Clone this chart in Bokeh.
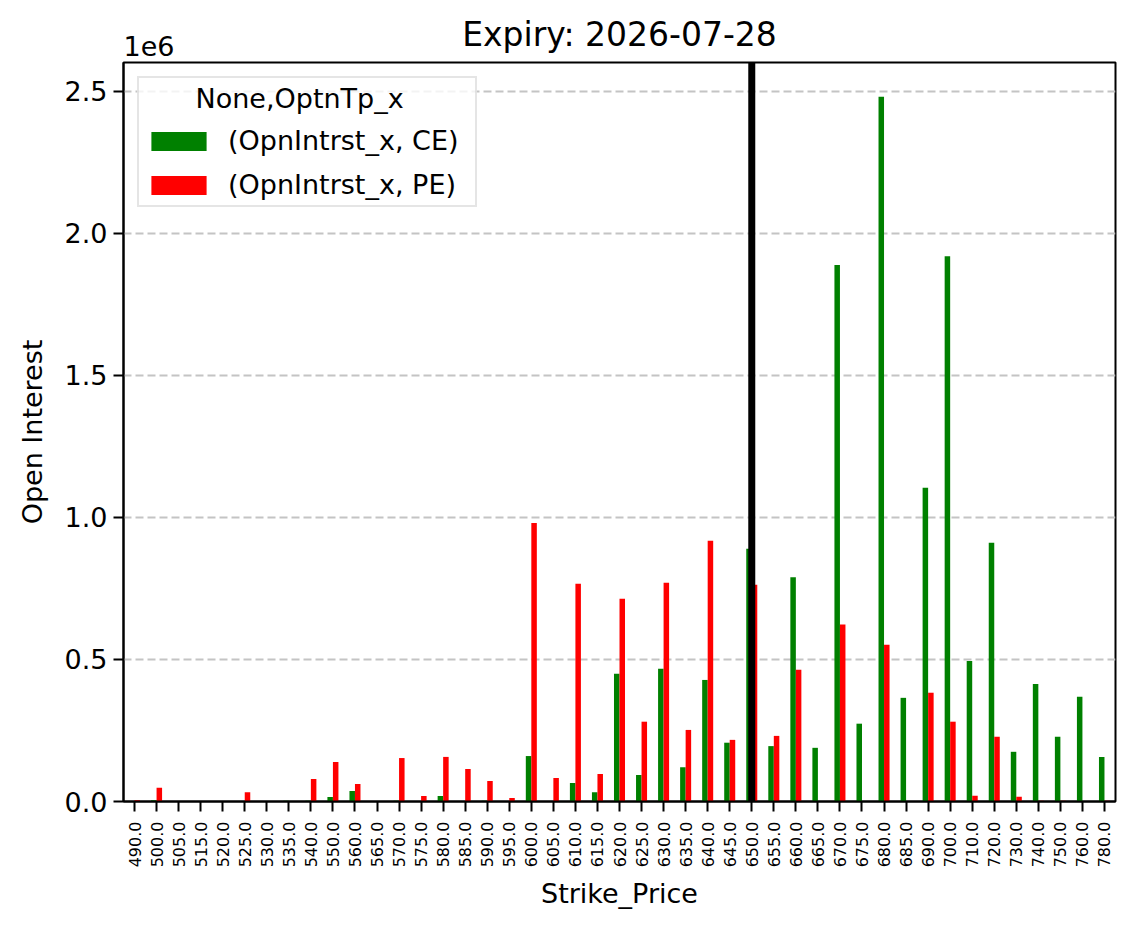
from bokeh.plotting import figure
from bokeh.models import (FixedTicker, Range1d, Legend, LegendItem, Span, Title,
                          ColumnDataSource, CustomJSTickFormatter)
from bokeh.embed import file_html
from bokeh.resources import INLINE

# ---- data ----
strikes = [490, 500, 505, 515, 520, 525, 530, 535, 540, 550, 560, 565, 570, 575, 580,
           585, 590, 595, 600, 605, 610, 615, 620, 625, 630, 635, 640, 645, 650, 655,
           660, 665, 670, 675, 680, 685, 690, 700, 710, 720, 730, 740, 750, 760, 780]
ce_oi = [0, 4000, 0, 0, 0, 0, 0, 3000, 3000, 16000, 37000, 0, 3000, 0, 19000,
         0, 3000, 0, 160000, 0, 65000, 33000, 450000, 93000, 467000, 121000, 428000, 207000, 890000, 195000,
         790000, 189000, 1889000, 274000, 2481000, 365000, 1105000, 1920000, 495000, 911000, 175000, 414000, 228000, 369000, 157000]
pe_oi = [4000, 48000, 0, 0, 0, 33000, 0, 0, 79000, 139000, 62000, 0, 153000, 19000, 157000,
         114000, 72000, 12000, 981000, 83000, 767000, 97000, 714000, 281000, 770000, 252000, 918000, 217000, 763000, 231000,
         464000, 0, 623000, 0, 552000, 0, 383000, 281000, 20000, 228000, 17000, 3000, 3000, 0, 3000]
spot_strike = 650
y_ticks = [0, 500000, 1000000, 1500000, 2000000, 2500000]
title_text = "Expiry: 2026-07-28"
legend_title = "None,OptnTp_x"
ce_label = "(OpnIntrst_x, CE)"
pe_label = "(OpnIntrst_x, PE)"

FONT = "DejaVu Sans"
n = len(strikes)
idx = list(range(n))
bar_w = 0.25

src = ColumnDataSource(dict(
    ce_x=[i - bar_w / 2 for i in idx],
    pe_x=[i + bar_w / 2 for i in idx],
    ce=ce_oi, pe=pe_oi,
))

p = figure(width=1134, height=928, output_backend="svg", toolbar_location=None,
           x_range=Range1d(-0.5, n - 0.5), y_range=Range1d(0, 2.602e6),
           min_border_left=123, min_border_right=19, min_border_top=62, min_border_bottom=127)

p.background_fill_color = "white"
p.border_fill_color = "white"
p.outline_line_color = "black"
p.outline_line_width = 2

# scale-offset text, nearest to the frame
p.add_layout(Title(text="1e6", align="left", offset=0, standoff=13, vertical_align="bottom",
                   text_font=FONT, text_font_size="27px", text_font_style="normal",
                   text_color="black"), "above")

# main title (outermost)
p.title.text = title_text
p.title.align = "center"
p.title.vertical_align = "bottom"
p.title.standoff = -52
p.title.text_font = FONT
p.title.text_font_size = "33px"
p.title.text_font_style = "normal"
p.title.text_color = "black"

r_ce = p.vbar(x="ce_x", top="ce", width=bar_w, source=src, fill_color="green", line_color=None)
r_pe = p.vbar(x="pe_x", top="pe", width=bar_w, source=src, fill_color="red", line_color=None)

# spot line
p.add_layout(Span(location=strikes.index(spot_strike), dimension="height",
                  line_color="black", line_width=7))

# axes
xa = p.xaxis[0]
xa.ticker = FixedTicker(ticks=idx)
xa.major_label_overrides = {i: f"{s:.1f}" for i, s in zip(idx, strikes)}
xa.major_label_orientation = 1.5707963
xa.major_label_text_font = FONT
xa.major_label_text_font_size = "16px"
xa.major_label_standoff = 10
xa.axis_label = "Strike_Price"
xa.axis_label_text_font = FONT
xa.axis_label_text_font_size = "27px"
xa.axis_label_text_font_style = "normal"
xa.axis_label_standoff = 8

ya = p.yaxis[0]
ya.ticker = FixedTicker(ticks=y_ticks)
ya.formatter = CustomJSTickFormatter(code="return (tick/1e6).toFixed(1);")
ya.major_label_text_font = FONT
ya.major_label_text_font_size = "27px"
ya.major_label_standoff = 6
ya.axis_label = "Open Interest"
ya.axis_label_text_font = FONT
ya.axis_label_text_font_size = "27px"
ya.axis_label_text_font_style = "normal"
ya.axis_label_standoff = 14

for ax in (xa, ya):
    ax.axis_line_color = "black"
    ax.axis_line_width = 2
    ax.major_tick_line_color = "black"
    ax.major_tick_line_width = 2
    ax.major_tick_out = 10
    ax.major_tick_in = 0
    ax.minor_tick_line_color = None
    ax.major_label_text_color = "black"
    ax.axis_label_text_color = "black"

p.xgrid.visible = False
p.ygrid.grid_line_color = "#c4c4c4"
p.ygrid.grid_line_width = 2
p.ygrid.grid_line_dash = "8 4"

# legend (title padded with spaces so that it sits centred like the original)
legend = Legend(items=[LegendItem(label=ce_label, renderers=[r_ce]),
                       LegendItem(label=pe_label, renderers=[r_pe])],
                location="top_left", title="      " + legend_title,
                title_text_font=FONT, title_text_font_size="27px", title_text_font_style="normal",
                title_text_color="black",
                label_text_font=FONT, label_text_font_size="27px", label_text_color="black",
                glyph_width=69, glyph_height=24, label_standoff=15, label_width=242,
                padding=5, spacing=13, margin=14, title_standoff=11,
                border_line_color="#cccccc", border_line_width=2,
                background_fill_alpha=0.8)
p.add_layout(legend)

open("out.html", "w").write(file_html(p, INLINE))
